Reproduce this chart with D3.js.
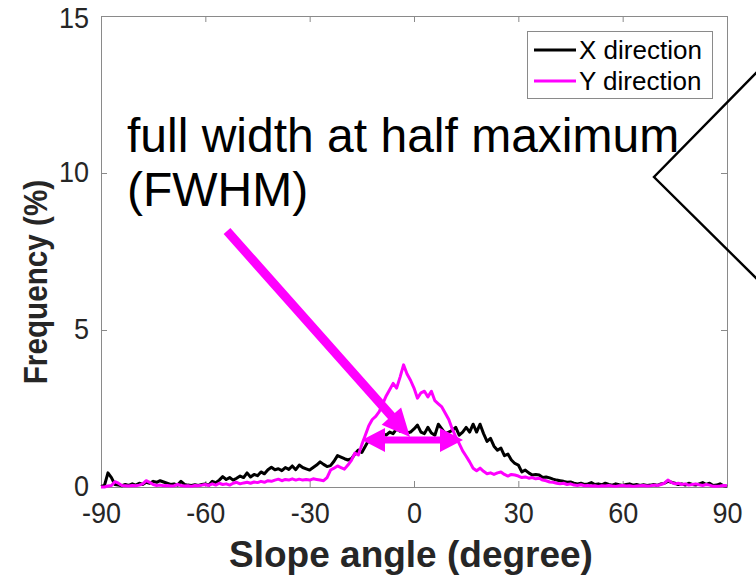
<!DOCTYPE html>
<html>
<head>
<meta charset="utf-8">
<script src="https://cdn.jsdelivr.net/npm/d3@7"></script>
<style>
  html, body { margin: 0; padding: 0; background: #fff; }
  svg { display: block; }
  text { font-family: Arial, "Liberation Sans", Helvetica, sans-serif; }
</style>
</head>
<body>
<svg id="chart" width="756" height="584"></svg>
<script>
// ---------------- data ----------------
const angles = d3.range(-90, 91, 1); // slope angle bins (degree)

const xDirection = [
  0.02,0.05,0.45,0.30,0.08,0.06,0.04,0.08,0.05,0.10,
  0.06,0.12,0.08,0.15,0.12,0.18,0.15,0.20,0.16,0.12,
  0.08,0.10,0.06,0.18,0.08,0.06,0.05,0.07,0.05,0.08,
  0.10,0.06,0.18,0.14,0.22,0.33,0.24,0.30,0.22,0.28,
  0.35,0.30,0.45,0.32,0.40,0.36,0.48,0.42,0.55,0.63,
  0.55,0.58,0.52,0.62,0.56,0.67,0.55,0.70,0.62,0.58,
  0.54,0.62,0.70,0.80,0.72,0.65,0.68,0.82,1.00,0.95,
  0.90,0.86,0.90,1.05,1.18,1.10,1.30,1.50,1.45,1.55,
  1.62,1.70,1.65,1.75,1.70,1.85,1.78,1.85,1.72,1.75,
  1.85,
  1.97,1.75,1.70,1.90,1.72,1.65,2.00,1.85,1.70,1.75,
  1.80,1.90,1.65,1.75,1.90,1.75,2.00,1.75,2.00,1.70,
  1.45,1.55,1.30,1.17,1.24,1.00,1.05,0.86,0.75,0.70,
  0.48,0.54,0.45,0.38,0.40,0.38,0.30,0.32,0.29,0.25,
  0.22,0.20,0.18,0.15,0.16,0.12,0.10,0.12,0.08,0.10,
  0.14,0.08,0.10,0.07,0.12,0.08,0.06,0.10,0.07,0.05,
  0.08,0.10,0.06,0.08,0.05,0.07,0.05,0.06,0.08,0.05,
  0.10,0.12,0.18,0.15,0.12,0.08,0.10,0.06,0.12,0.08,
  0.06,0.10,0.14,0.08,0.12,0.05,0.06,0.10,0.04,0.02
];

const yDirection = [
  0.00,0.00,0.03,0.05,0.17,0.12,0.05,0.04,0.03,0.05,
  0.04,0.06,0.10,0.20,0.15,0.08,0.05,0.06,0.04,0.05,
  0.03,0.04,0.08,0.05,0.03,0.04,0.02,0.05,0.04,0.06,
  0.08,0.05,0.10,0.06,0.12,0.08,0.10,0.06,0.12,0.15,
  0.10,0.13,0.15,0.12,0.16,0.14,0.18,0.15,0.20,0.18,
  0.22,0.25,0.20,0.24,0.22,0.26,0.22,0.25,0.22,0.24,
  0.22,0.26,0.24,0.22,0.20,0.30,0.54,0.60,0.67,0.62,
  0.57,0.70,0.85,1.08,1.02,1.35,1.65,1.95,2.15,2.25,
  2.40,2.65,2.90,3.10,3.30,3.15,3.50,3.89,3.60,3.40,
  3.15,
  2.83,3.00,3.05,2.87,3.05,2.75,2.65,2.55,2.35,2.15,
  1.85,1.60,1.38,1.15,0.98,0.80,0.60,0.52,0.60,0.50,
  0.42,0.45,0.40,0.45,0.48,0.40,0.35,0.40,0.38,0.35,
  0.30,0.32,0.28,0.30,0.26,0.28,0.22,0.20,0.16,0.15,
  0.12,0.10,0.12,0.08,0.10,0.06,0.05,0.07,0.04,0.05,
  0.03,0.04,0.02,0.04,0.03,0.05,0.03,0.02,0.04,0.05,
  0.03,0.04,0.02,0.03,0.04,0.05,0.03,0.04,0.06,0.05,
  0.08,0.12,0.22,0.15,0.10,0.12,0.08,0.10,0.06,0.08,
  0.10,0.07,0.05,0.08,0.06,0.02,0.02,0.03,0.05,0.04
];

const xTicks = [-90, -60, -30, 0, 30, 60, 90];
const yTicks = [0, 5, 10, 15];
const seriesNames = ["X direction", "Y direction"];
const seriesColors = ["#000000", "#ff00ff"];
const xLabel = "Slope angle (degree)";
const yLabel = "Frequency (%)";
const annotationLines = ["full width at half maximum", "(FWHM)"];

// ---------------- layout ----------------
const svg = d3.select("#chart");
const L = 101, R = 727, T = 16, B = 487;
const x = d3.scaleLinear().domain([-90, 90]).range([L, R]);
const y = d3.scaleLinear().domain([0, 15]).range([B, T]);
const axisColor = "#8a8a8a";
const labelColor = "#262626";
const fmt = d => String(d); // plain hyphen-minus like the reference

svg.append("rect").attr("width", 756).attr("height", 584).attr("fill", "#fff");

// axes
const tickLen = 6;
const gx = svg.append("g").attr("transform", `translate(0,${B})`)
  .call(d3.axisBottom(x).tickValues(xTicks).tickSizeInner(-tickLen).tickSizeOuter(0).tickPadding(15).tickFormat(fmt));
const gxTop = svg.append("g").attr("transform", `translate(0,${T})`)
  .call(d3.axisTop(x).tickValues(xTicks).tickSizeInner(-tickLen).tickSizeOuter(0).tickFormat(""));
const gy = svg.append("g").attr("transform", `translate(${L},0)`)
  .call(d3.axisLeft(y).tickValues(yTicks).tickSizeInner(-tickLen).tickSizeOuter(0).tickPadding(12).tickFormat(fmt));
const gyR = svg.append("g").attr("transform", `translate(${R},0)`)
  .call(d3.axisRight(y).tickValues(yTicks).tickSizeInner(-tickLen).tickSizeOuter(0).tickFormat(""));

[gx, gxTop, gy, gyR].forEach(g => {
  g.select(".domain").attr("stroke", axisColor).attr("stroke-width", 1);
  g.selectAll(".tick line").attr("stroke", axisColor);
});
gx.selectAll(".tick text")
  .attr("fill", labelColor).attr("font-size", 30)
  .attr("dy", "0.71em")
  .attr("transform", "scale(0.9,1)");
gy.selectAll(".tick text")
  .attr("fill", labelColor).attr("font-size", 30)
  .attr("transform", (d) => d === 15 ? "translate(-12,1) scale(0.9,1)" : "translate(-12,-2) scale(0.9,1)")
  .attr("x", 0).attr("dy", "0.34em");

// lines
const line = d3.line().x((d, i) => x(angles[i])).y(d => y(d));
[xDirection, yDirection].forEach((vals, k) => {
  svg.append("path")
    .datum(vals)
    .attr("d", line)
    .attr("fill", "none")
    .attr("stroke", seriesColors[k])
    .attr("stroke-width", 3)
    .attr("stroke-linejoin", "round");
});

// axis labels
svg.append("text")
  .attr("x", 411).attr("y", 567)
  .attr("text-anchor", "middle")
  .attr("font-weight", "bold").attr("font-size", 37)
  .attr("fill", labelColor)
  .text(xLabel);
svg.append("text")
  .attr("transform", "translate(47,282) rotate(-90) scale(0.9,1)")
  .attr("text-anchor", "middle")
  .attr("font-weight", "bold").attr("font-size", 33)
  .attr("fill", labelColor)
  .text(yLabel);

// legend
const lg = svg.append("g");
lg.append("rect").attr("x", 527.5).attr("y", 31.5).attr("width", 185).attr("height", 67)
  .attr("fill", "#fff").attr("stroke", axisColor).attr("stroke-width", 1);
seriesNames.forEach((name, k) => {
  const yy = 50 + k * 31;
  lg.append("line").attr("x1", 534).attr("x2", 576).attr("y1", yy).attr("y2", yy)
    .attr("stroke", seriesColors[k]).attr("stroke-width", 3);
  lg.append("text").attr("x", 579).attr("y", yy + 9)
    .attr("font-size", 26).attr("fill", "#000").text(name);
});

// annotation text
annotationLines.forEach((t, i) => {
  svg.append("text").attr("x", 127).attr("y", 152 + i * 54)
    .attr("font-size", 48).attr("fill", "#000").text(t);
});

// pointing arrow
function arrowPoly(x0, y0, x1, y1, shaftW, headL, headW) {
  const dx = x1 - x0, dy = y1 - y0, len = Math.hypot(dx, dy);
  const ux = dx / len, uy = dy / len, nx = -uy, ny = ux;
  const bx = x1 - ux * headL, by = y1 - uy * headL;
  const p = [
    [x0 + nx * shaftW / 2, y0 + ny * shaftW / 2],
    [bx + nx * shaftW / 2, by + ny * shaftW / 2],
    [bx + nx * headW, by + ny * headW],
    [x1, y1],
    [bx - nx * headW, by - ny * headW],
    [bx - nx * shaftW / 2, by - ny * shaftW / 2],
    [x0 - nx * shaftW / 2, y0 - ny * shaftW / 2]
  ];
  return "M" + p.map(q => q.join(",")).join("L") + "Z";
}
svg.append("path").attr("d", arrowPoly(227, 231, 410, 437, 9, 28, 13)).attr("fill", "#ff00ff");

// double arrow
function dblArrow(x0, x1, yc, shaftW, headL, headW) {
  const p = [
    [x0, yc], [x0 + headL, yc - headW], [x0 + headL, yc - shaftW / 2],
    [x1 - headL, yc - shaftW / 2], [x1 - headL, yc - headW], [x1, yc],
    [x1 - headL, yc + headW], [x1 - headL, yc + shaftW / 2],
    [x0 + headL, yc + shaftW / 2], [x0 + headL, yc + headW]
  ];
  return "M" + p.map(q => q.join(",")).join("L") + "Z";
}
svg.append("path").attr("d", dblArrow(362, 463, 440, 7, 23, 12)).attr("fill", "#ff00ff");

// callout bracket
svg.append("path")
  .attr("d", "M760,69 L654,177 L760,282")
  .attr("fill", "none").attr("stroke", "#000").attr("stroke-width", 2.4);
</script>
</body>
</html>
